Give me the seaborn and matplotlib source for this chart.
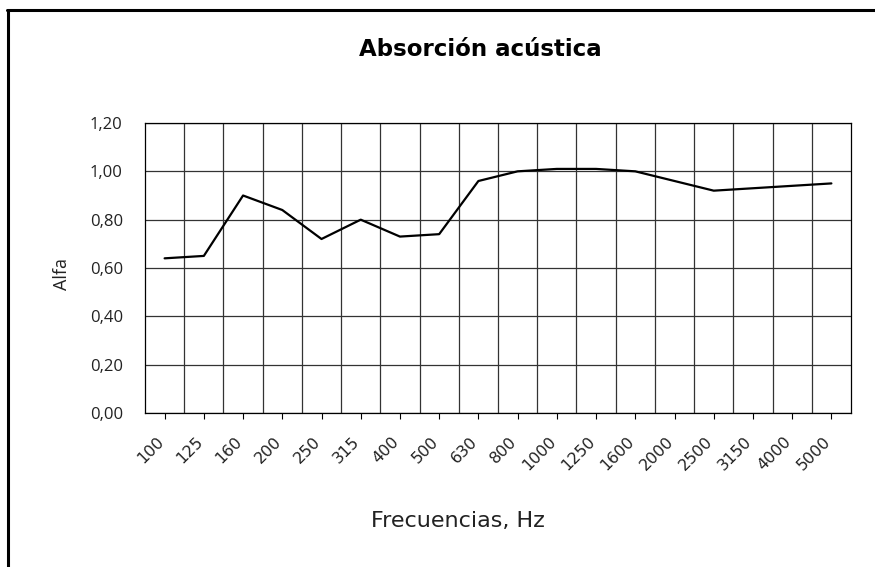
import matplotlib
matplotlib.use("Agg")
import matplotlib.pyplot as plt
from matplotlib.lines import Line2D
from matplotlib.ticker import FixedLocator, FuncFormatter
import seaborn as sns
import pandas as pd

# Third-octave band centre frequencies (Hz) and absorption coefficients
frecuencias = ["100", "125", "160", "200", "250", "315", "400", "500", "630",
               "800", "1000", "1250", "1600", "2000", "2500", "3150", "4000", "5000"]
alfa = [0.64, 0.65, 0.90, 0.84, 0.72, 0.80, 0.73, 0.74, 0.96,
        1.00, 1.01, 1.01, 1.00, 0.96, 0.92, 0.93, 0.94, 0.95]
y_ticks = [0.0, 0.2, 0.4, 0.6, 0.8, 1.0, 1.2]

df = pd.DataFrame({"Frecuencia": frecuencias, "Alfa": alfa})

sns.set_theme(style="white")
plt.rcParams["font.family"] = ["DejaVu Sans"]

fig = plt.figure(figsize=(8.75, 5.67), dpi=100)
ax = fig.add_axes([145 / 875, 1 - 413 / 567, (851 - 145) / 875, (413 - 123) / 567])

sns.lineplot(data=df, x="Frecuencia", y="Alfa", ax=ax, color="black",
             linewidth=1.6, sort=False)

n = len(frecuencias)
ax.set_xlim(-0.5, n - 0.5)
ax.set_ylim(y_ticks[0], y_ticks[-1])

# Category ticks at the centres, grid lines between categories
ax.set_xticks(range(n))
ax.set_xticklabels(frecuencias, rotation=45, ha="right", va="baseline",
                   rotation_mode="anchor", fontsize=11.5, color="#222222")
ax.xaxis.set_minor_locator(FixedLocator([i + 0.5 for i in range(n - 1)]))
ax.tick_params(axis="x", which="major", direction="out", length=4, width=0.8,
               color="black", bottom=True, pad=17)
ax.tick_params(axis="x", which="minor", length=0)
ax.grid(True, axis="x", which="minor", color="#333333", linewidth=0.9)

ax.set_yticks(y_ticks)
ax.yaxis.set_major_formatter(FuncFormatter(lambda v, _: f"{v:.2f}".replace(".", ",")))
ax.tick_params(axis="y", length=0, pad=16, labelsize=12, labelcolor="#222222",
               labelfontfamily="Open Sans")
ax.grid(True, axis="y", which="major", color="#333333", linewidth=0.9)

for s in ax.spines.values():
    s.set_visible(True)
    s.set_color("black")
    s.set_linewidth(0.9)

ax.set_xlabel("")
ax.set_ylabel("")
fig.text(62 / 875, 1 - 274 / 567, "Alfa", rotation=90, ha="center", va="center",
         fontsize=13, color="#222222", family=["Open Sans", "DejaVu Sans"])
fig.text(458 / 875, 1 - 521 / 567, "Frecuencias, Hz", ha="center", va="center",
         fontsize=16, color="#222222")
fig.text(480 / 875, 1 - 49 / 567, "Absorción acústica", ha="center", va="center",
         fontsize=16.5, fontweight="bold", color="black")

# Chart frame
fig.add_artist(Line2D([7 / 875, 1.0], [1 - 10 / 567, 1 - 10 / 567],
                      transform=fig.transFigure, color="black", linewidth=2.2))
fig.add_artist(Line2D([8 / 875, 8 / 875], [0.0, 1 - 10 / 567],
                      transform=fig.transFigure, color="black", linewidth=2.2))

fig.savefig("out.png", dpi=100, facecolor="white")
